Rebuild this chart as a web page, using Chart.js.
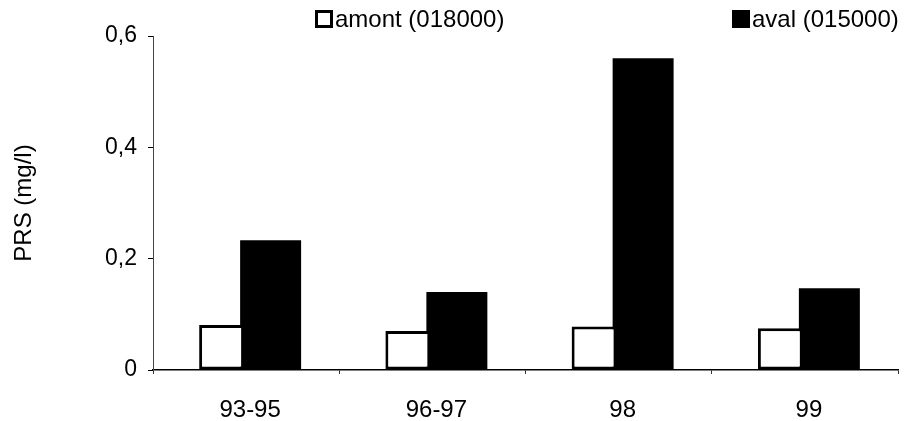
<!DOCTYPE html>
<html><head><meta charset="utf-8">
<script src="https://cdn.jsdelivr.net/npm/chart.js@4"></script>
<style>html,body{margin:0;padding:0;background:#fff}#wrap{width:906px;height:421px;position:relative}</style>
</head><body><div id="wrap"><canvas id="c" width="906" height="421"></canvas></div>
<script>
const categories = ['93-95', '96-97', '98', '99'];
const amontValues = [0.081, 0.070, 0.078, 0.075];
const avalValues = [0.233, 0.140, 0.560, 0.147];
const seriesLabels = ['amont (018000)', 'aval (015000)'];
const yTickLabels = ['0', '0,2', '0,4', '0,6'];
const yAxisTitle = 'PRS (mg/l)';

const FONT = '"Liberation Sans", Arial, sans-serif';

const legendPlugin = {
  id: 'splitLegend',
  afterDraw(chart) {
    const ctx = chart.ctx;
    const items = [
      { x: 315, ds: chart.data.datasets[0] },
      { x: 732, ds: chart.data.datasets[1] }
    ];
    ctx.save();
    ctx.font = '24px ' + FONT;
    ctx.textBaseline = 'middle';
    ctx.textAlign = 'left';
    items.forEach(it => {
      const y = 10, s = 18;
      ctx.fillStyle = it.ds.backgroundColor;
      ctx.fillRect(it.x, y, s, s);
      if (it.ds.backgroundColor === '#ffffff') {
        ctx.strokeStyle = '#000';
        ctx.lineWidth = 3;
        ctx.strokeRect(it.x + 1.5, y + 1.5, s - 3, s - 3);
      }
      ctx.fillStyle = '#000';
      ctx.fillText(it.ds.label, it.x + s + 2, y + s / 2 + 1);
    });
    ctx.restore();
  }
};

new Chart(document.getElementById('c'), {
  type: 'bar',
  data: {
    labels: categories,
    datasets: [
      {
        label: seriesLabels[0],
        data: amontValues,
        backgroundColor: '#ffffff',
        borderColor: '#000000',
        borderWidth: 3,
        borderSkipped: false,
        inflateAmount: 0,
        categoryPercentage: 0.526,
        barPercentage: 45 / 49
      },
      {
        label: seriesLabels[1],
        data: avalValues,
        backgroundColor: '#000000',
        borderColor: '#000000',
        borderWidth: 0,
        inflateAmount: 0,
        categoryPercentage: 0.526,
        barPercentage: 61 / 49
      }
    ]
  },
  options: {
    responsive: false,
    animation: false,
    devicePixelRatio: 1,
    layout: { padding: { top: 36, right: 8, left: 0, bottom: 0 } },
    plugins: { legend: { display: false }, tooltip: { enabled: false } },
    scales: {
      x: {
        offset: true,
        afterFit(s) { s.height = 51; },
        border: { color: '#000', width: 1.5 },
        grid: { drawOnChartArea: false, drawTicks: true, tickLength: 4, color: '#333', offset: true },
        ticks: { color: '#000', font: { size: 24, family: FONT }, padding: 22, labelOffset: 4, maxRotation: 0 }
      },
      y: {
        min: 0,
        max: 0.6,
        afterFit(s) { s.width = 153; },
        border: { color: '#444', width: 1, dash: [7, 3, 2, 3] },
        grid: { drawOnChartArea: false, drawTicks: true, tickLength: 5, color: '#000' },
        ticks: {
          stepSize: 0.2,
          color: '#000',
          padding: 11,
          font: { size: 23, family: FONT },
          callback: v => yTickLabels[Math.round(v / 0.2)]
        },
        title: {
          display: true,
          text: yAxisTitle,
          color: '#000',
          font: { size: 24, family: FONT },
          padding: { top: 10, bottom: 0 }
        }
      }
    }
  },
  plugins: [legendPlugin]
});
</script>
</body></html>
